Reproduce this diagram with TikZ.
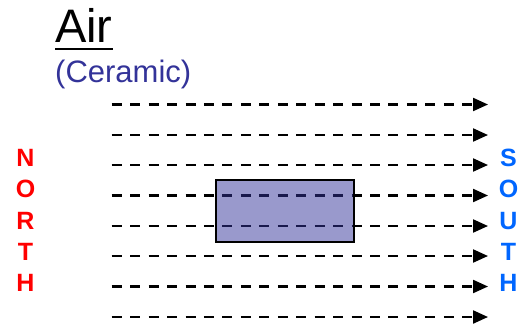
\documentclass[tikz,border=0pt]{standalone}
\usepackage{fontspec}
\setmainfont{Liberation Sans}
\usetikzlibrary{arrows.meta}
\definecolor{cerblue}{HTML}{333399}
\definecolor{southblue}{HTML}{0066FF}
\definecolor{northred}{HTML}{FF0000}
\begin{document}
\begin{tikzpicture}[x=1pt,y=-1pt,
  flux/.style={line width=2.2pt, dash pattern=on 10pt off 8.45pt,
    -{Triangle[length=15pt,width=13pt]}},
  pole/.style={font=\fontsize{25}{25}\selectfont\bfseries, inner sep=0pt, anchor=base},
  ceram/.style={draw=black, line width=2.5pt, fill=cerblue, fill opacity=0.5}]
\useasboundingbox (0,0) rectangle (532,332);
% title
\node[anchor=base west, inner sep=0pt, font=\fontsize{47}{47}\selectfont] (air) at (55,42) {Air};
\draw[line width=2.5pt] (air.base west) ++(0,7) coordinate (ul1) -- (ul1 -| air.east);
\node[anchor=base west, inner sep=0pt, text=cerblue, font=\fontsize{31}{31}\selectfont] (cer) at (55,82) {(Ceramic)};
% field lines
\foreach \i/\y in {1/104.5,2/135,3/165,4/195.5,5/226,6/256,7/286.5,8/317}{
  \coordinate (s\i) at (111.7,\y);
  \coordinate (e\i) at (488,\y);
  \draw[flux] (s\i) -- (e\i);
}
% ceramic block
\node[ceram, minimum width=138pt, minimum height=62pt, inner sep=0pt] (block) at (285,211) {};
% NORTH
\foreach \l/\y [count=\k] in {N/166.5,O/197.5,R/229,T/260,H/291.5}{
  \node[pole, text=northred] (n\k) at (25.5,\y) {\l};
}
% SOUTH
\foreach \l/\y [count=\k] in {S/166.5,O/197.5,U/229,T/260,H/291.5}{
  \node[pole, text=southblue] (so\k) at (508.5,\y) {\l};
}
\end{tikzpicture}
\end{document}
